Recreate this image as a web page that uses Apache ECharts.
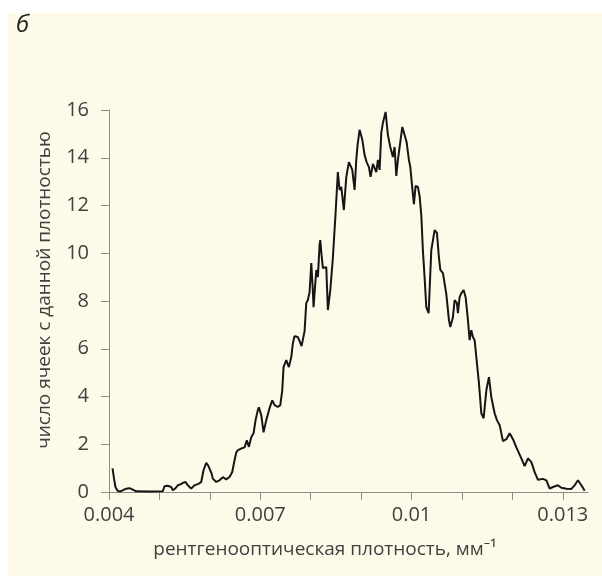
<!DOCTYPE html>
<html>
<head>
<meta charset="utf-8">
<script src="https://cdn.jsdelivr.net/npm/echarts@6/dist/echarts.min.js"></script>
<style>
html,body{margin:0;padding:0;background:#ffffff;}
#bg{position:absolute;left:8px;top:13px;width:594px;height:563px;background:#fefae9;}
#chart{position:absolute;left:0;top:0;width:602px;height:576px;}
</style>
</head>
<body>
<div id="bg"></div>
<div id="chart"></div>
<script>
// X: рентгенооптическая плотность (мм^-1)
const density = [
0.00407,0.004099,0.004129,0.004175,0.004228,0.004288,0.004341,0.004407,0.004472,0.00454,
0.004804,0.005067,0.005101,0.005161,0.005234,0.005266,0.005319,0.005365,0.005419,0.005464,
0.005518,0.005563,0.005631,0.005663,0.005696,0.005782,0.005829,0.005875,0.005928,0.005964,
0.005994,0.006034,0.006059,0.006127,0.006192,0.006258,0.006325,0.006391,0.006444,0.00649,
0.006524,0.006555,0.006623,0.006688,0.006734,0.006774,0.006821,0.006867,0.006907,0.006952,
0.006972,0.00702,0.007065,0.007119,0.007184,0.007238,0.007284,0.007349,0.007397,0.007436,
0.007462,0.007516,0.007567,0.007615,0.007647,0.00768,0.007714,0.007746,0.00778,0.007819,
0.007879,0.007912,0.007944,0.007978,0.008012,0.008037,0.008057,0.008111,0.008143,0.008176,
0.00819,0.008216,0.008242,0.008309,0.008341,0.008389,0.00844,0.008494,0.008539,0.008573,
0.008607,0.008658,0.008706,0.008758,0.008825,0.008871,0.008904,0.00893,0.00897,0.009024,
0.009069,0.009109,0.009155,0.009188,0.009234,0.009301,0.009333,0.009367,0.0094,0.009432,
0.009486,0.009531,0.009579,0.00963,0.009664,0.009698,0.00973,0.009763,0.009817,0.009863,
0.009902,0.009948,0.009976,0.010015,0.010047,0.010081,0.010126,0.01016,0.010194,0.010226,
0.010259,0.010293,0.010339,0.010392,0.010458,0.010504,0.010543,0.010571,0.010623,0.01069,
0.010742,0.010769,0.010821,0.010855,0.0109,0.01092,0.010954,0.010988,0.011033,0.011073,
0.011119,0.011152,0.011186,0.011218,0.011252,0.011297,0.011337,0.011384,0.01143,0.011484,
0.011535,0.011583,0.011648,0.011694,0.011748,0.011813,0.011881,0.011946,0.012012,0.012079,
0.012178,0.012244,0.012309,0.012377,0.012442,0.012508,0.012607,0.012674,0.01274,0.012805,
0.012904,0.012972,0.013071,0.01317,0.013235,0.013301,0.013368,0.013434
];
// Y: число ячеек с данной плотностью
const cellCount = [
0.99,0.57,0.20,0.04,0.03,0.09,0.14,0.16,0.10,0.03,
0.02,0.03,0.24,0.26,0.21,0.07,0.16,0.28,0.32,0.38,
0.42,0.28,0.14,0.18,0.28,0.35,0.42,0.91,1.22,1.12,
0.98,0.78,0.56,0.42,0.49,0.62,0.53,0.63,0.84,1.33,
1.66,1.75,1.82,1.87,2.17,1.89,2.29,2.46,3.01,3.43,
3.55,3.22,2.50,3.01,3.51,3.84,3.64,3.56,3.64,4.26,
5.23,5.52,5.23,5.65,6.23,6.53,6.57,6.49,6.32,6.11,
6.74,7.91,8.04,8.37,9.59,8.67,7.74,9.30,9.00,10.34,
10.55,9.92,9.38,9.42,7.62,8.46,9.80,11.69,13.40,12.65,
12.78,11.81,13.19,13.82,13.49,12.65,13.91,14.54,15.17,14.75,
14.12,13.82,13.61,13.20,13.74,13.40,13.91,13.49,15.04,15.46,
15.92,14.96,14.45,14.03,14.45,13.24,13.91,13.91,15.29,14.95,
14.66,13.91,13.61,12.73,12.06,12.82,12.78,12.40,11.60,10.09,
9.00,7.74,7.49,10.13,10.97,10.85,9.84,9.30,9.17,8.29,
7.20,6.91,7.32,8.04,7.91,7.49,8.16,8.33,8.46,8.16,
7.20,6.36,6.78,6.49,6.36,5.40,4.56,3.30,3.09,4.26,
4.81,3.97,3.30,3.01,2.80,2.13,2.21,2.46,2.21,1.87,
1.41,1.08,1.41,1.25,0.83,0.51,0.55,0.49,0.14,0.21,
0.28,0.18,0.14,0.13,0.28,0.49,0.28,0.05
];
const xTicks = [0.004,0.005,0.006,0.007,0.008,0.009,0.010,0.011,0.012,0.013];
const xTickLabels = [0.004,0.007,0.01,0.013];
const yTicks = [0,2,4,6,8,10,12,14,16];

const seriesData = density.map((d,i)=>[d, cellCount[i]]);
const axisColor = '#8c8c8c';
const textColor = '#404040';
const font = '"Open Sans", "Noto Sans", sans-serif';

const chart = echarts.init(document.getElementById('chart'), null, {renderer:'canvas'});
chart.setOption({
  backgroundColor: 'transparent',
  animation: false,
  grid: {left:109, right:14, top:110, bottom:84, containLabel:false},
  xAxis: {
    type:'value', min:0.004, max:0.0135,
    axisLine:{show:true, lineStyle:{color:axisColor, width:1}},
    axisTick:{show:true, length:8, customValues:xTicks, lineStyle:{color:axisColor}},
    axisLabel:{show:true, customValues:xTickLabels, margin:13, fontSize:20, color:textColor, fontFamily:font,
      formatter:(v)=>String(+v.toFixed(4))},
    splitLine:{show:false}
  },
  yAxis: {
    type:'value', min:0, max:16, interval:2,
    axisLine:{show:true, lineStyle:{color:axisColor, width:1}},
    axisTick:{show:true, length:8, customValues:yTicks, lineStyle:{color:axisColor}},
    axisLabel:{show:true, margin:20, fontSize:20, color:textColor, fontFamily:font},
    splitLine:{show:false}
  },
  graphic: [
    {type:'text', left:16, top:13, style:{text:'б', fontSize:24, fontStyle:'italic', fill:'#222', fontFamily:font}},
    {type:'text', x:45, y:290, rotation:Math.PI/2, style:{text:'число ячеек с данной плотностью', fontSize:19, fill:textColor, fontFamily:font, align:'center', verticalAlign:'middle'}},
    {type:'text', x:325, y:550, style:{text:'рентгенооптическая плотность, мм⁻¹', fontSize:19, fill:textColor, fontFamily:font, align:'center', verticalAlign:'middle'}}
  ],
  series: [{
    type:'line', data:seriesData, showSymbol:false, symbol:'none',
    lineStyle:{color:'#151515', width:2}, z:3
  }]
});
</script>
</body>
</html>
